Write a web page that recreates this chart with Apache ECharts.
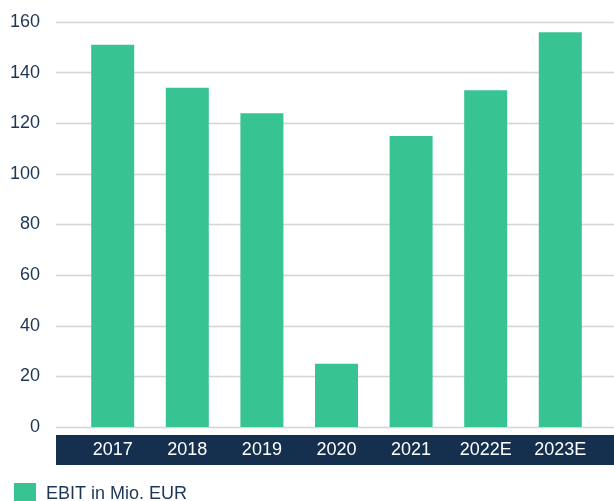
<!DOCTYPE html>
<html>
<head>
<meta charset="utf-8">
<script src="https://cdn.jsdelivr.net/npm/echarts@6/dist/echarts.min.js"></script>
<style>
  html, body { margin: 0; padding: 0; background: #fff; }
  #main { width: 614px; height: 501px; }
</style>
</head>
<body>
<div id="main"></div>
<script>
  // Daten
  const years = ['2017', '2018', '2019', '2020', '2021', '2022E', '2023E'];
  const ebit = [151, 134, 124, 25, 115, 133, 156];
  const yTicks = [0, 20, 40, 60, 80, 100, 120, 140, 160];

  const navy = '#14304e';
  const green = '#38c492';
  const textColor = '#1d3656';

  const myChart = echarts.init(document.getElementById('main'));
  myChart.setOption({
    animation: false,
    textStyle: { fontFamily: 'Liberation Sans, Arial, sans-serif' },
    grid: { left: 56, right: 0, top: 22, bottom: 74 },
    legend: {
      left: 9,
      top: 478,
      itemWidth: 22,
      itemHeight: 22,
      icon: 'rect',
      textStyle: { fontSize: 18, color: textColor, padding: [0, 0, 0, 5] },
      data: ['EBIT in Mio. EUR']
    },
    xAxis: {
      type: 'value',
      min: -0.76,
      max: 6.72,
      offset: 23,
      splitLine: { show: false },
      axisTick: { show: false },
      axisLine: { show: true, onZero: false, lineStyle: { color: navy, width: 30, cap: 'butt' } },
      axisLabel: {
        show: true,
        customValues: [0, 1, 2, 3, 4, 5, 6],
        formatter: (v) => years[Math.round(v)],
        color: '#ffffff',
        fontSize: 18,
        margin: -9,
        showMinLabel: true,
        showMaxLabel: true
      }
    },
    yAxis: {
      type: 'value',
      min: yTicks[0],
      max: yTicks[yTicks.length - 1],
      interval: 20,
      axisLine: { show: false },
      axisTick: { show: false },
      axisLabel: { color: textColor, fontSize: 18, margin: 16 },
      splitLine: { lineStyle: { color: '#d4d4d4', width: 1.3 } }
    },
    series: [{
      name: 'EBIT in Mio. EUR',
      type: 'bar',
      barWidth: 43,
      itemStyle: { color: green },
      data: years.map((y, i) => [i, ebit[i]])
    }]
  });
</script>
</body>
</html>
